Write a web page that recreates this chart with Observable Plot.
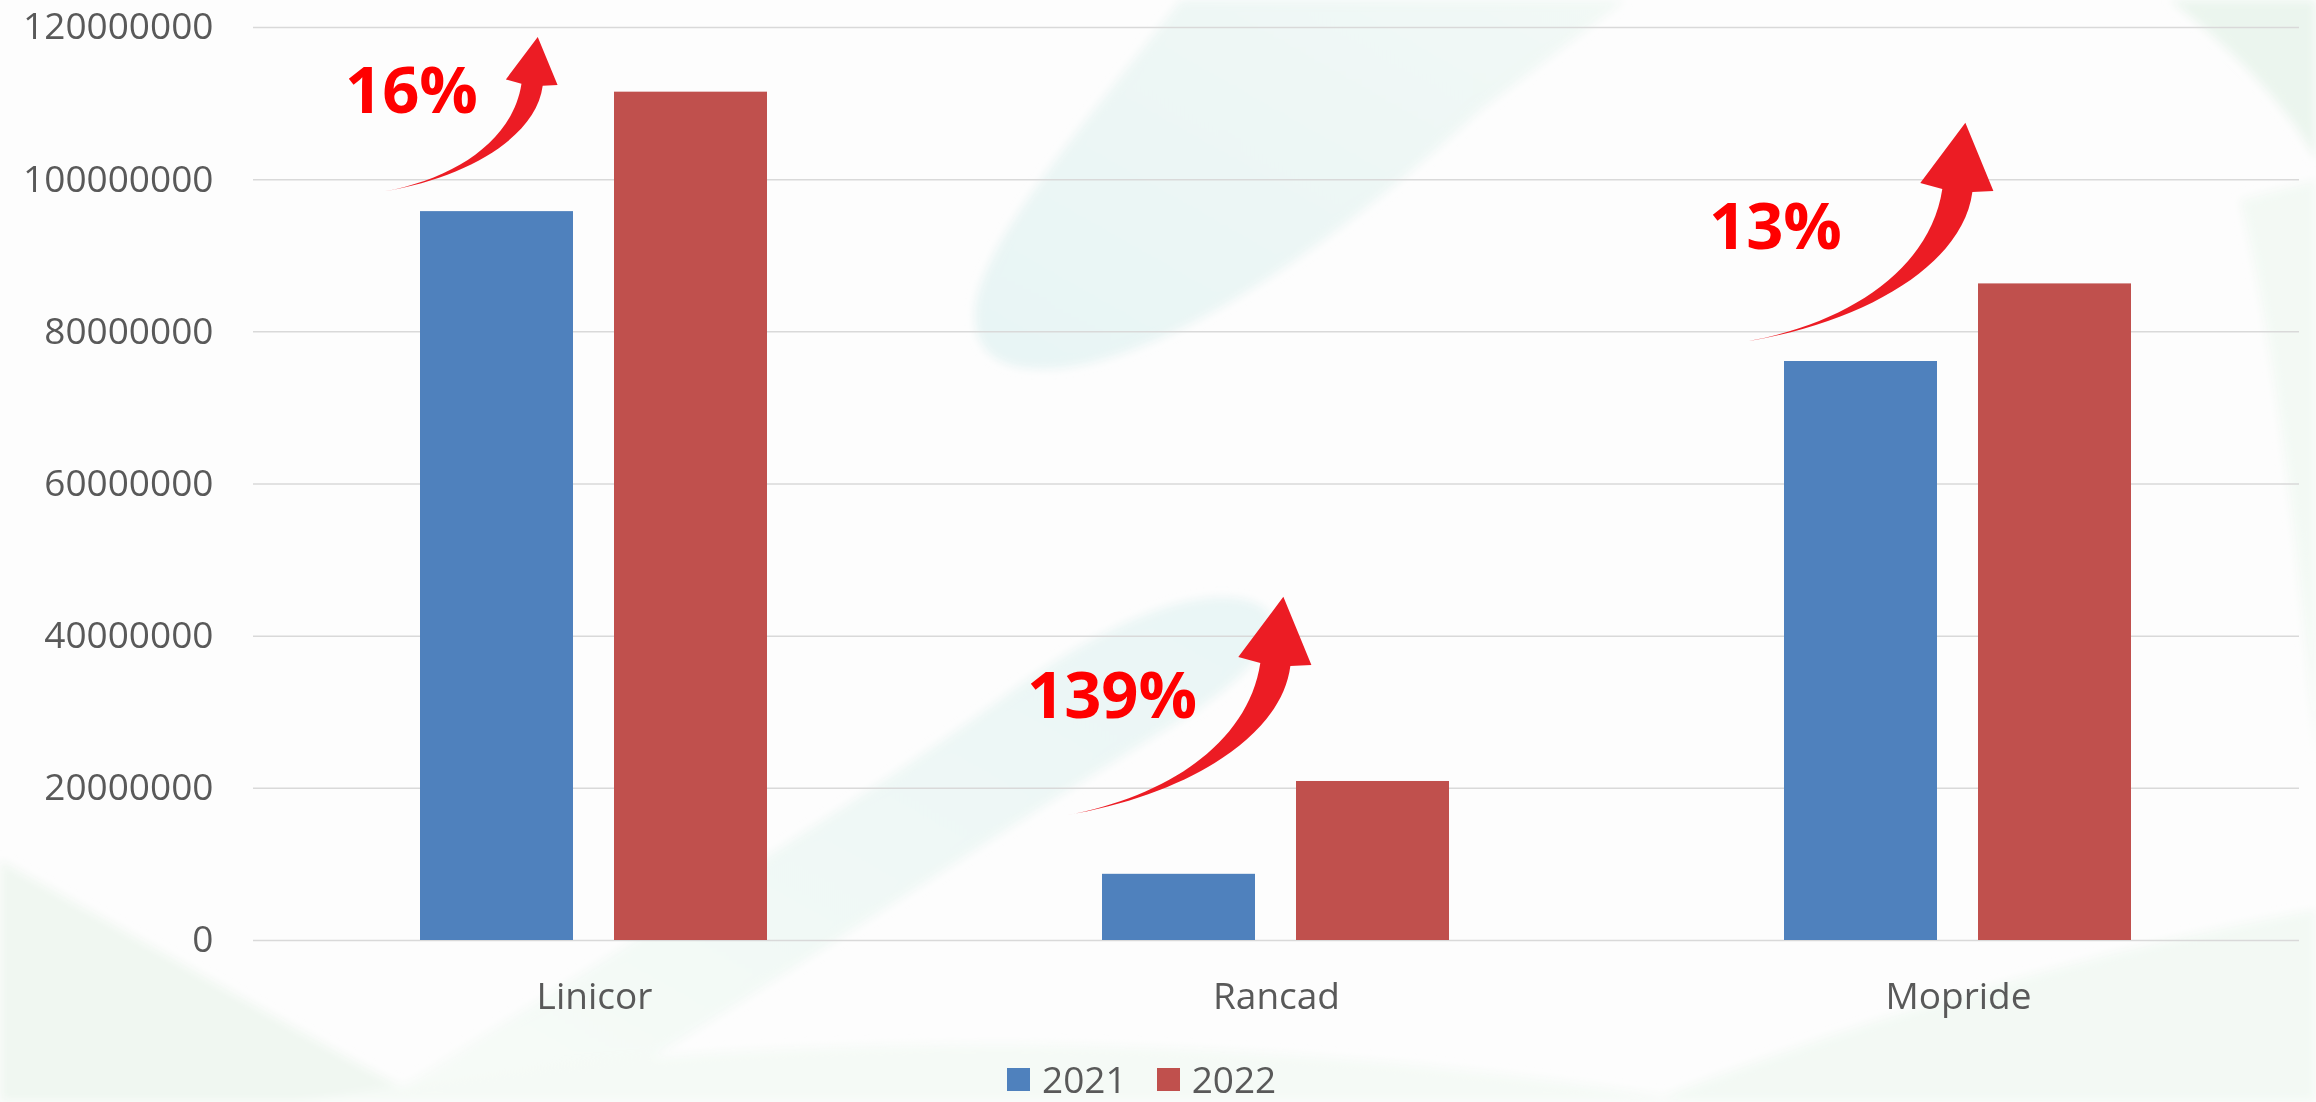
<!DOCTYPE html>
<html>
<head>
<meta charset="utf-8">
<script src="https://cdn.jsdelivr.net/npm/d3@7"></script>
<script src="https://cdn.jsdelivr.net/npm/@observablehq/plot@0.6"></script>
<style>
  html, body { margin: 0; padding: 0; width: 2316px; height: 1102px; overflow: hidden; background: #fdfdfd; font-family: "Open Sans", sans-serif; }
  #bg { position: absolute; left: 0; top: 0; z-index: 0; }
  #chart { position: absolute; left: 0; top: 0; z-index: 1; }
  #legend { position: absolute; left: 1007px; top: 1059px; z-index: 2; display: flex; align-items: center; font-size: 37px; line-height: 40px; color: #595959; white-space: nowrap; }
  .item { display: flex; align-items: center; margin-right: 30px; }
  .sw { width: 23px; height: 23px; display: inline-block; margin-right: 12px; }
</style>
</head>
<body>
<svg id="bg" width="2316" height="1102" viewBox="0 0 2316 1102">
  <defs>
    <filter id="soft" x="-10%" y="-10%" width="120%" height="120%"><feGaussianBlur stdDeviation="5"/></filter>
    <linearGradient id="tealA" x1="0" y1="1" x2="1" y2="0">
      <stop offset="0" stop-color="#e4f3f3"/>
      <stop offset="1" stop-color="#f0f8f4"/>
    </linearGradient>
    <linearGradient id="tealB" x1="1" y1="0" x2="0" y2="1">
      <stop offset="0" stop-color="#e6f4f4"/>
      <stop offset="0.6" stop-color="#eff8f4"/>
      <stop offset="1" stop-color="#f7fbf7"/>
    </linearGradient>
  </defs>
  <g filter="url(#soft)">
    <path d="M1181,0 C1080,130 975,250 975,315 C975,360 1010,372 1060,368 C1180,355 1350,230 1480,110 L1625,0 Z" fill="url(#tealA)" opacity="0.85"/>
    <path d="M1245,600 C1180,585 1080,640 1000,700 C850,810 600,960 380,1102 L580,1102 C780,980 1000,830 1180,720 C1265,668 1300,612 1245,600 Z" fill="url(#tealB)" opacity="0.85"/>
    <path d="M0,860 C160,950 330,1050 430,1102 L0,1102 Z" fill="#f0f7f1"/>
    <path d="M2170,0 C2240,55 2290,110 2316,160 L2316,0 Z" fill="#ebf5ee"/>
    <path d="M2240,200 C2275,340 2300,560 2316,760 L2316,180 Z" fill="#f3f9f4"/>
    <path d="M1650,1102 C1880,1010 2140,940 2316,910 L2316,1102 Z" fill="#f3f9f4"/>
    <path d="M300,1102 C700,1030 1200,1020 1700,1102 Z" fill="#f5faf6"/>
  </g>
</svg>
<div id="chart"></div>
<div id="legend"></div>
<script>
// ---- data ----
const categories = ["Linicor", "Rancad", "Mopride"];
const years = ["2021", "2022"];
const values2021 = [95800000, 8700000, 76100000];
const values2022 = [111500000, 20900000, 86300000];
const yTicks = [0, 20000000, 40000000, 60000000, 80000000, 100000000, 120000000];
const seriesColors = ["#4f81bd", "#c0504d"];

// growth annotations (anchored in data units)
const growthLabels = ["16%", "139%", "13%"];
const growthLabelAt = [111500000, 32000000, 93600000];
const arrowFrom = [98400000, 16400000, 78700000];
const arrowTo = [118700000, 45100000, 107400000];

// ---- tables ----
const rows = [];
categories.forEach((c, i) => {
  rows.push({category: c, year: years[0], value: values2021[i]});
  rows.push({category: c, year: years[1], value: values2022[i]});
});
const annotations = categories.map((c, i) => ({category: c, year: years[0], label: growthLabels[i], at: growthLabelAt[i]}));

const W = 2316, H = 1050;
const chart = Plot.plot({
  width: W,
  height: H,
  marginLeft: 252,
  marginRight: 16,
  marginTop: 27,
  marginBottom: H - 940,
  style: {fontSize: "37px", fontFamily: '"Open Sans", sans-serif', color: "#595959", background: "transparent", overflow: "visible"},
  fx: {domain: categories, padding: 0, label: null, axis: "bottom", tickSize: 0, tickPadding: 42},
  x: {domain: years, axis: null, paddingInner: 0.21, paddingOuter: 0.855},
  y: {domain: [0, 120000000], ticks: yTicks, tickFormat: d => String(d), tickSize: 0, tickPadding: 40, label: null},
  color: {domain: years, range: seriesColors},
  marks: [
    Plot.ruleY(yTicks, {stroke: "#d9d9d9", strokeWidth: 1.5}),
    Plot.barY(rows, {fx: "category", x: "year", y: "value", fill: "year"}),
    Plot.text(annotations, {fx: "category", x: "year", y: "at", text: "label", textAnchor: "start", dx: -152,
      fill: "#ff0000", fontWeight: "bold", fontSize: 65, fontFamily: '"Open Sans", sans-serif'})
  ]
});
document.getElementById("chart").appendChild(chart);

// ---- curved growth arrows, placed with the plot's own scales ----
const sFx = chart.scale("fx"), sX = chart.scale("x"), sY = chart.scale("y");
const arrowShape = "M0,0 C100,-18 182,-72 194,-152 L172,-158 L217,-218 L245,-150 L224,-149 C215,-78 120,-20 0,0 Z";
const svg = d3.select(chart);
const g = svg.append("g").attr("class", "arrows");
categories.forEach((c, i) => {
  const blueLeft = sFx.apply(c) + sX.apply(years[0]) - sX.range[0];
  const y0 = sY.apply(arrowFrom[i]);
  const y1 = sY.apply(arrowTo[i]);
  const s = (y0 - y1) / 218;
  g.append("path")
    .attr("d", arrowShape)
    .attr("fill", "#ec1c24")
    .attr("transform", `translate(${blueLeft - 36},${y0}) scale(${s})`);
});

// ---- legend ----
const legend = document.getElementById("legend");
years.forEach((yr, i) => {
  const item = document.createElement("div");
  item.className = "item";
  const sw = document.createElement("span");
  sw.className = "sw";
  sw.style.background = seriesColors[i];
  const t = document.createElement("span");
  t.textContent = yr;
  item.appendChild(sw);
  item.appendChild(t);
  legend.appendChild(item);
});
</script>
</body>
</html>
